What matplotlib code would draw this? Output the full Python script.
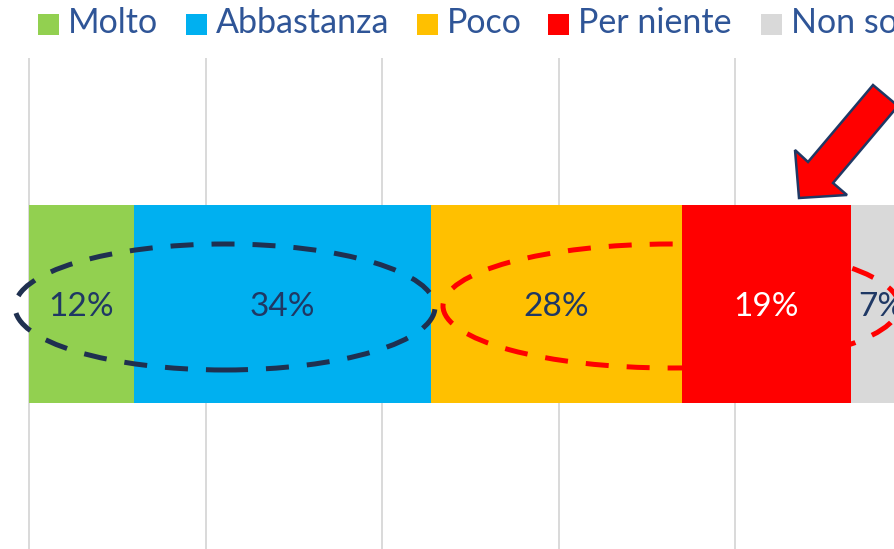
import matplotlib
matplotlib.use("Agg")
import matplotlib.pyplot as plt
from matplotlib.patches import Rectangle, Ellipse, Polygon

# ---- data ----
categories = ["Molto", "Abbastanza", "Poco", "Per niente", "Non so"]
values = [11.9, 33.6, 28.4, 19.2, 6.9]
labels = ["12%", "34%", "28%", "19%", "7%"]
colors = ["#92D050", "#00B0F0", "#FFC000", "#FF0000", "#D9D9D9"]
label_colors = ["#1F3864", "#1F3864", "#1F3864", "#FFFFFF", "#1F3864"]
grid_ticks = [0, 20, 40, 60, 80, 100]

W, H = 894, 549
DPI = 100
plt.rcParams['font.family'] = ['Lato', 'DejaVu Sans']
fig = plt.figure(figsize=(W / DPI, H / DPI), dpi=DPI)

PX_PER_PCT = 8.83
X0_PX = 29
AX_TOP_PX = 58
BAR_H = 0.5
PX_PER_Y = 396
Y_CENTER_PX = 304

ax = fig.add_axes([0, 0, 1, (H - AX_TOP_PX) / H])
ax.set_xlim(-X0_PX / PX_PER_PCT, (W - X0_PX) / PX_PER_PCT)
ax.set_ylim(-(H - Y_CENTER_PX) / PX_PER_Y, (Y_CENTER_PX - AX_TOP_PX) / PX_PER_Y)
for s in ax.spines.values():
    s.set_visible(False)
ax.set_xticks([])
ax.set_yticks([])
for g in grid_ticks:
    ax.axvline(g, color="#D9D9D9", lw=1.4, zorder=0)

left = 0
for cat, v, c, lab, lc in zip(categories, values, colors, labels, label_colors):
    ax.barh(0, v, left=left, height=BAR_H, color=c, zorder=2)
    ax.text(left + v / 2, -0.008, lab, ha="center", va="center",
            fontsize=24, color=lc, zorder=5)
    left += v

def px(x, y):
    return ((x - X0_PX) / PX_PER_PCT, (Y_CENTER_PX - y) / PX_PER_Y)

# dashed ellipses
def ellipse(cx, cy, w, h, col, z):
    c = px(cx, cy)
    e = Ellipse(c, w / PX_PER_PCT, h / PX_PER_Y, fill=False, edgecolor=col,
                lw=3.6, linestyle=(0, (4.6, 3.6)), zorder=z, clip_on=False)
    ax.add_patch(e)

ellipse(671, 306, 456, 124, "#FF0000", 6)
ellipse(225, 307, 420, 126, "#1F3050", 7)

# arrow
arrow_px = [(873, 85), (808, 162), (795, 150), (799, 198), (847, 195), (833, 183), (898, 106)]
arrow = Polygon([px(x, y) for x, y in arrow_px], closed=True, facecolor="#FF0000",
                edgecolor="#1F3864", lw=1.8, zorder=8, clip_on=False, joinstyle="miter")
ax.add_patch(arrow)

# legend
leg_x = [38, 186, 417, 548, 761]
sq = 21
for x, cat, c in zip(leg_x, categories, colors):
    fig.patches.append(Rectangle((x / W, 1 - 35 / H), sq / W, sq / H,
                                 transform=fig.transFigure, facecolor=c, edgecolor="none"))
    fig.text((x + sq + 9) / W, 1 - 33 / H, cat, ha="left", va="baseline",
             fontsize=24.5, color="#2F5597")

fig.savefig("out.png", dpi=DPI)
